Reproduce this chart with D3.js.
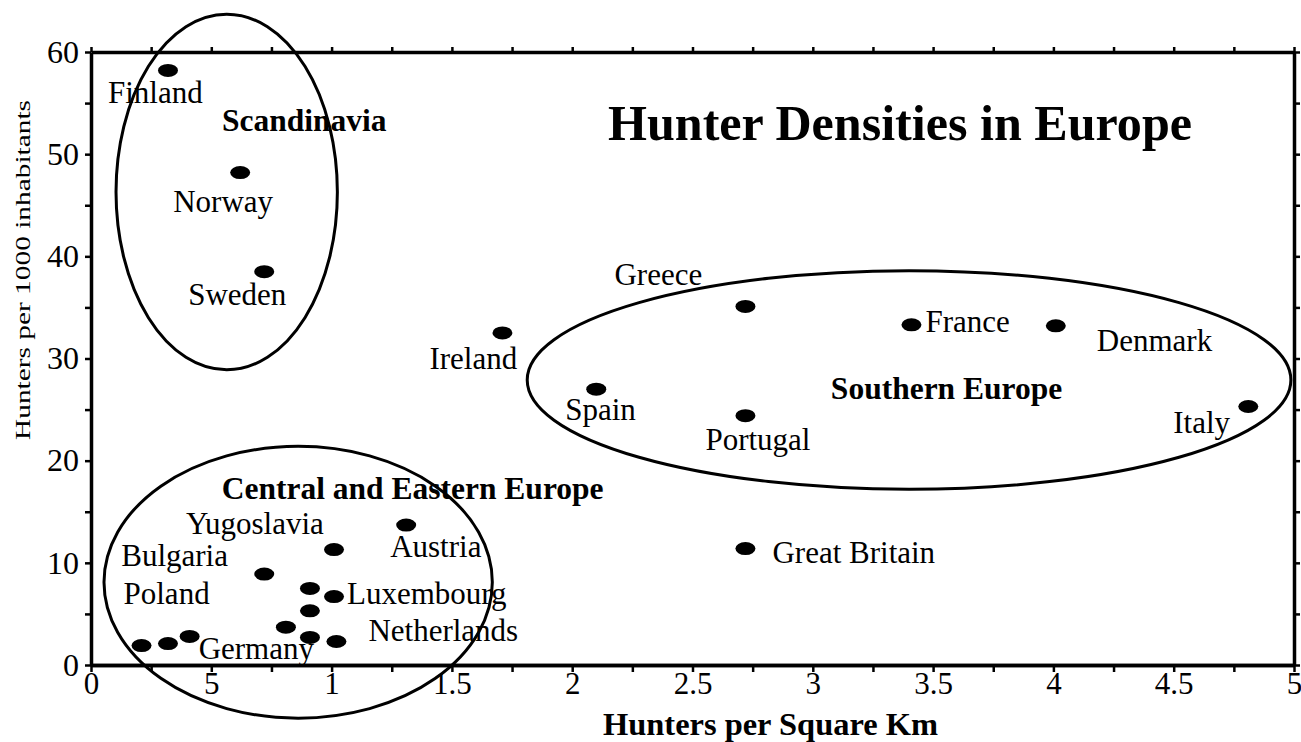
<!DOCTYPE html>
<html>
<head>
<meta charset="utf-8">
<script src="https://cdn.jsdelivr.net/npm/d3@7"></script>
<style>
body { margin: 0; background: #fff; }
text { font-family: "Liberation Serif", "Times New Roman", serif; fill: #000; }
</style>
</head>
<body>
<script>
// data
var countries = ["Finland", "Norway", "Sweden", "Ireland", "Greece", "France", "Denmark", "Spain",
    "Portugal", "Italy", "Great Britain", "Austria", "Yugoslavia", "Bulgaria", "", "Luxembourg",
    "", "", "", "Netherlands", "Poland", "", "Germany"];
var perSqKm = [0.32, 0.62, 0.72, 1.71, 2.72, 3.41, 4.01, 2.10, 2.72, 4.81, 2.72, 1.31, 1.01, 0.72,
    0.91, 1.01, 0.91, 0.81, 0.91, 1.02, 0.21, 0.32, 0.41];
var perThousand = [58.2, 48.2, 38.5, 32.5, 35.1, 33.3, 33.2, 27.0, 24.4, 25.3, 11.4, 13.7, 11.3, 8.9,
    7.5, 6.7, 5.3, 3.7, 2.7, 2.3, 1.9, 2.1, 2.8];

var xTicks = [0, 0.5, 1, 1.5, 2, 2.5, 3, 3.5, 4, 4.5, 5];
var xTickLabels = ["0", "5", "1", "1.5", "2", "2.5", "3", "3.5", "4", "4.5", "5"];
var xMinor = [0.25, 0.75, 1.25, 1.75, 2.25, 2.75, 3.25, 3.75, 4.25, 4.75];
var yTicks = [0, 10, 20, 30, 40, 50, 60];
var yMinor = [5, 15, 25, 35, 45, 55];

var groups = ["Scandinavia", "Southern Europe", "Central and Eastern Europe"];
var groupCx = [0.564, 3.40, 0.861];
var groupCy = [46.3, 27.9, 8.1];
var groupRx = [0.46, 1.587, 0.807];
var groupRy = [17.4, 10.7, 13.3];

// where each label sits relative to its dot (px)
var labelDx = [-60, -67, -76, -73, -131, 14, 41, -31, -40, -75, 27, -16, -148, -143, 0, 13, 0, 0, 0, 32, -18, 0, 9];
var labelDy = [33, 39, 33, 36, -21, 7, 25, 31, 34, 26, 14, 32, -16, -8, 0, 7, 0, 0, 0, -1, -42, 0, 23];
var groupDx = [77.5, 37.5, 114.5];
var groupDy = [-63.5, 16.5, -86.5];

var W = 1301, H = 742;

var x = d3.scaleLinear().domain([0, 5]).range([91, 1294]);
var y = d3.scaleLinear().domain([0, 60]).range([665, 52]);

var svg = d3.select("body").append("svg")
    .attr("width", W)
    .attr("height", H);

// frame + ticks
function styleAxis(g) {
    g.select(".domain").attr("stroke-width", 3.5);
    g.selectAll(".tick line").attr("stroke-width", 2.5);
}

svg.append("g")
    .attr("transform", "translate(0," + y(0) + ")")
    .call(d3.axisBottom(x).tickValues(xMinor).tickSize(7).tickSizeOuter(0).tickFormat(""))
    .call(styleAxis);

svg.append("g")
    .attr("transform", "translate(0," + y(0) + ")")
    .call(d3.axisBottom(x).tickValues(xTicks).tickSize(7).tickSizeOuter(0)
        .tickFormat(function(d, i) { return xTickLabels[i]; }))
    .call(styleAxis)
    .call(function(g) {
        g.selectAll(".tick text").attr("font-size", 31).attr("dy", "0.6em");
    });

svg.append("g")
    .attr("transform", "translate(0," + y(60) + ")")
    .call(d3.axisTop(x).tickValues(xTicks.concat(xMinor)).tickSize(5).tickSizeOuter(0).tickFormat(""))
    .call(styleAxis);

svg.append("g")
    .attr("transform", "translate(" + x(0) + ",0)")
    .call(d3.axisLeft(y).tickValues(yTicks.concat(yMinor)).tickSize(6).tickSizeOuter(0)
        .tickFormat(function(d) { return d % 10 === 0 ? d : ""; }))
    .call(styleAxis)
    .call(function(g) {
        g.selectAll(".tick text").attr("font-size", 32).attr("x", -12);
    });

svg.append("g")
    .attr("transform", "translate(" + x(5) + ",0)")
    .call(d3.axisRight(y).tickValues(yTicks.concat(yMinor)).tickSize(6).tickSizeOuter(0).tickFormat(""))
    .call(styleAxis);

// axis titles
svg.append("text")
    .attr("x", 603)
    .attr("y", 735)
    .attr("font-size", 31)
    .attr("font-weight", "bold")
    .attr("textLength", 335)
    .attr("lengthAdjust", "spacingAndGlyphs")
    .text("Hunters per Square Km");

svg.append("text")
    .attr("transform", "translate(30,270) rotate(-90)")
    .attr("text-anchor", "middle")
    .attr("font-size", 22)
    .attr("textLength", 340)
    .attr("lengthAdjust", "spacingAndGlyphs")
    .text("Hunters per 1000 inhabitants");

svg.append("text")
    .attr("x", 608)
    .attr("y", 140)
    .attr("font-size", 50)
    .attr("font-weight", "bold")
    .attr("textLength", 584)
    .attr("lengthAdjust", "spacingAndGlyphs")
    .text("Hunter Densities in Europe");

// group ellipses
var grp = svg.append("g").selectAll("g")
    .data(groups)
    .join("g");

grp.append("ellipse")
    .attr("cx", function(d, i) { return x(groupCx[i]); })
    .attr("cy", function(d, i) { return y(groupCy[i]); })
    .attr("rx", function(d, i) { return x(groupRx[i]) - x(0); })
    .attr("ry", function(d, i) { return y(0) - y(groupRy[i]); })
    .attr("fill", "none")
    .attr("stroke", "#000")
    .attr("stroke-width", 3);

grp.append("text")
    .attr("x", function(d, i) { return x(groupCx[i]) + groupDx[i]; })
    .attr("y", function(d, i) { return y(groupCy[i]) + groupDy[i] + 3; })
    .attr("text-anchor", "middle")
    .attr("font-size", 31.5)
    .attr("font-weight", "bold")
    .text(function(d) { return d; });

// dots
var pts = svg.append("g").selectAll("g")
    .data(countries)
    .join("g");

pts.append("ellipse")
    .attr("cx", function(d, i) { return x(perSqKm[i]); })
    .attr("cy", function(d, i) { return y(perThousand[i]); })
    .attr("rx", 10)
    .attr("ry", 6.5)
    .attr("fill", "#000");

pts.filter(function(d) { return d !== ""; })
    .append("text")
    .attr("x", function(d) { var i = countries.indexOf(d); return x(perSqKm[i]) + labelDx[i]; })
    .attr("y", function(d) { var i = countries.indexOf(d); return y(perThousand[i]) + labelDy[i]; })
    .attr("font-size", 31)
    .text(function(d) { return d; });
</script>
</body>
</html>
